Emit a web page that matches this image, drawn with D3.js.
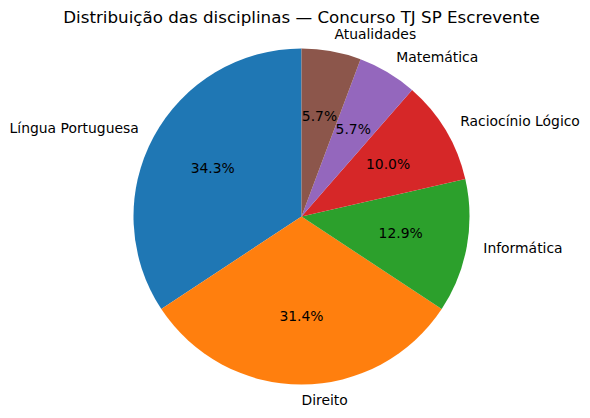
<!DOCTYPE html>
<html>
<head>
<meta charset="utf-8">
<script src="https://cdn.jsdelivr.net/npm/d3@7"></script>
<style>
body { margin: 0; background: #fff; }
text { font-family: "DejaVu Sans", sans-serif; }
</style>
</head>
<body>
<script>
// chart values
var subjects = ['Língua Portuguesa', 'Direito', 'Informática', 'Raciocínio Lógico', 'Matemática', 'Atualidades'];
var counts = [24, 22, 9, 7, 4, 4];
var colors = ['#1f77b4', '#ff7f0e', '#2ca02c', '#d62728', '#9467bd', '#8c564b'];
var title = 'Distribuição das disciplinas — Concurso TJ SP Escrevente';

var width = 590, height = 418;
var cx = 301.5, cy = 216.5, radius = 168;

var svg = d3.select('body')
	.append('svg')
	.attr('width', width)
	.attr('height', height);

svg.append('text')
	.attr('x', cx)
	.attr('y', 18)
	.attr('text-anchor', 'middle')
	.attr('dominant-baseline', 'middle')
	.attr('font-size', '16.7px')
	.text(title);

var total = d3.sum(counts);
var data = subjects.map(function(s, i){ return {name: s, value: counts[i], color: colors[i]}; });

// matplotlib style: start at top, counterclockwise
var pie = d3.pie()
	.value(function(d){ return d.value; })
	.sort(null)
	.startAngle(0)
	.endAngle(-2 * Math.PI);

var arc = d3.arc().innerRadius(0).outerRadius(radius);

var g = svg.append('g').attr('transform', 'translate(' + cx + ',' + cy + ')');

var slices = pie(data);

g.selectAll('path')
	.data(slices)
	.enter()
	.append('path')
	.attr('d', arc)
	.attr('fill', function(d){ return d.data.color; });

function pos(d, k){
	var mid = (d.startAngle + d.endAngle) / 2;
	return [Math.sin(mid) * radius * k, -Math.cos(mid) * radius * k];
}

// subject labels (left aligned when on the right half or straight down)
g.selectAll('.label')
	.data(slices)
	.enter()
	.append('text')
	.attr('class', 'label')
	.attr('x', function(d){ return pos(d, 1.1)[0]; })
	.attr('y', function(d){ return pos(d, 1.1)[1]; })
	.attr('text-anchor', function(d){
		var x = pos(d, 1.1)[0];
		return x > -1e-6 ? 'start' : 'end';
	})
	.attr('dominant-baseline', 'middle')
	.attr('font-size', '13.9px')
	.text(function(d){ return d.data.name; });

// percentages
g.selectAll('.pct')
	.data(slices)
	.enter()
	.append('text')
	.attr('class', 'pct')
	.attr('x', function(d){ return pos(d, 0.6)[0]; })
	.attr('y', function(d){ return pos(d, 0.6)[1]; })
	.attr('text-anchor', 'middle')
	.attr('dominant-baseline', 'middle')
	.attr('font-size', '13.9px')
	.text(function(d){ return (d.data.value / total * 100).toFixed(1) + '%'; });
</script>
</body>
</html>
